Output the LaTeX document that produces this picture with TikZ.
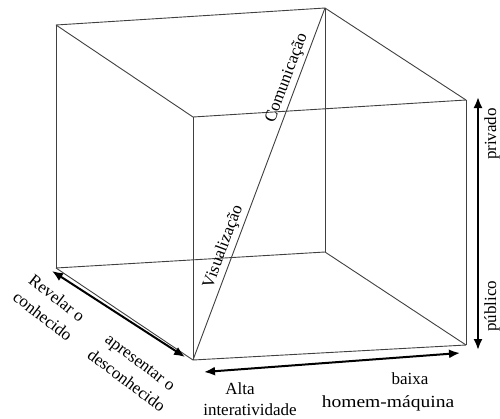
\documentclass[tikz,border=0pt]{standalone}
\usepackage{fontspec}
\setmainfont{Liberation Serif}
\usetikzlibrary{arrows.meta}
\begin{document}
\begin{tikzpicture}[x=1pt,y=-1pt,
  edge/.style={draw=black!75, line width=0.9pt},
  dblarrow/.style={draw=black, line width=2pt, {Latex[length=11pt,width=9pt]}-{Latex[length=11pt,width=9pt]}},
  lbl/.style={font=\fontsize{17}{19}\selectfont, inner sep=0pt},
  twoline/.style={lbl, align=center, font=\fontsize{17}{23}\selectfont}]
\useasboundingbox (0,0) rectangle (500,418);
% cube vertices
\coordinate (BTL) at (56,25);
\coordinate (BTR) at (325,8);
\coordinate (BBL) at (56,268);
\coordinate (BBR) at (325,252);
\coordinate (FTL) at (193,117);
\coordinate (FTR) at (466,100);
\coordinate (FBL) at (193,360);
\coordinate (FBR) at (466,345);
% cube edges
\draw[edge] (BTL) -- (BTR);
\draw[edge] (BTL) -- (FTL);
\draw[edge] (BTR) -- (FTR);
\draw[edge] (FTL) -- (FTR);
\draw[edge] (BTL) -- (BBL);
\draw[edge] (BTR) -- (BBR);
\draw[edge] (FTL) -- (FBL);
\draw[edge] (FTR) -- (FBR);
\draw[edge] (BBL) -- (BBR);
\draw[edge] (BBL) -- (FBL);
\draw[edge] (BBR) -- (FBR);
\draw[edge] (FBL) -- (FBR);
% diagonal
\draw[edge] (FBL) -- (BTR)
  node[lbl, pos=0.31, sloped, above=3pt] (vis) {Visualização}
  node[lbl, pos=0.79, sloped, above=3pt] (com) {Comunicação};
% arrow end points
\coordinate (LA1) at (52,271);
\coordinate (LA2) at (185,357);
\coordinate (BA1) at (204,372);
\coordinate (BA2) at (460,353);
\coordinate (RA1) at (478,97);
\coordinate (RA2) at (478,350);
\draw[dblarrow] (LA1) -- (LA2);
\draw[dblarrow] (BA1) -- (BA2);
\draw[dblarrow] (RA1) -- (RA2);
% labels
\node[twoline, rotate=-38] (rev) at (50,307) {Revelar o\\conhecido};
\node[twoline, rotate=-37] (apr) at (133,372) {apresentar o\\desconhecido};
\node[lbl] (alta) at (240,389) {Alta};
\node[lbl] (inter) at (250,410) {interatividade};
\node[lbl] (baixa) at (410,379) {baixa};
\node[lbl, xscale=1.15] (hm) at (388,403) {homem-máquina};
\node[lbl, rotate=90] (priv) at (492,134) {privado};
\node[lbl, rotate=90] (pub) at (492,306) {público};
\end{tikzpicture}
\end{document}
